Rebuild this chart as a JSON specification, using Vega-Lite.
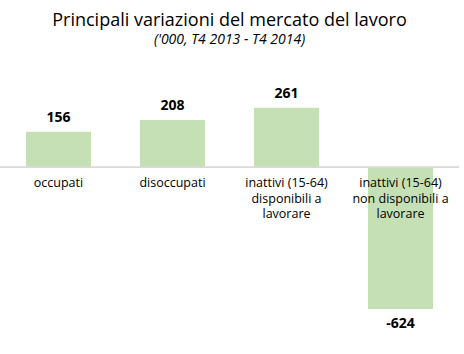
{
  "$schema": "https://vega.github.io/schema/vega-lite/v6.json",
  "autosize": "none",
  "width": 459,
  "height": 216,
  "padding": {"left": 0, "top": 99, "right": 5, "bottom": 39},
  "background": "white",
  "title": {
    "text": "Principali variazioni del mercato del lavoro",
    "subtitle": "('000, T4 2013 - T4 2014)",
    "anchor": "middle",
    "offset": 40,
    "font": "Open Sans",
    "fontSize": 18,
    "fontWeight": "normal",
    "color": "#000000",
    "subtitleFont": "Open Sans",
    "subtitleFontSize": 14,
    "subtitleFontStyle": "italic",
    "subtitleColor": "#000000",
    "subtitlePadding": 3
  },
  "config": {"view": {"stroke": null}},
  "data": {
    "values": [
      {"categoria": "occupati", "etichetta": "occupati", "valore": 156, "testo": "156"},
      {"categoria": "disoccupati", "etichetta": "disoccupati", "valore": 208, "testo": "208"},
      {"categoria": "inattivi disponibili", "etichetta": "inattivi (15-64)\ndisponibili a\nlavorare", "valore": 261, "testo": "261"},
      {"categoria": "inattivi non disponibili", "etichetta": "inattivi (15-64)\nnon disponibili a\nlavorare", "valore": -624, "testo": "-624"}
    ]
  },
  "encoding": {
    "x": {"field": "categoria", "type": "nominal", "sort": null, "axis": null,
          "scale": {"paddingInner": 0.43, "paddingOuter": 0.228}}
  },
  "layer": [
    {
      "mark": {"type": "bar", "color": "#C5E0B4"},
      "encoding": {
        "y": {"field": "valore", "type": "quantitative", "axis": null,
              "scale": {"domain": [-650, 300], "nice": false, "zero": false}}
      }
    },
    {
      "mark": {"type": "rule", "color": "#d9d9d9", "strokeWidth": 1},
      "encoding": {"y": {"datum": 0, "type": "quantitative"}, "x": {"value": 0}, "x2": {"value": 459}}
    },
    {
      "transform": [{"filter": "datum.valore >= 0"}],
      "mark": {"type": "text", "baseline": "bottom", "dy": -7, "font": "Open Sans", "fontSize": 14, "fontWeight": "bold", "color": "#000000"},
      "encoding": {
        "y": {"field": "valore", "type": "quantitative"},
        "text": {"field": "testo", "type": "nominal"}
      }
    },
    {
      "transform": [{"filter": "datum.valore < 0"}],
      "mark": {"type": "text", "baseline": "top", "dy": 8, "font": "Open Sans", "fontSize": 14, "fontWeight": "bold", "color": "#000000"},
      "encoding": {
        "y": {"field": "valore", "type": "quantitative"},
        "text": {"field": "testo", "type": "nominal"}
      }
    },
    {
      "mark": {"type": "text", "baseline": "top", "dy": 10, "lineBreak": "\n", "lineHeight": 15.5, "font": "Open Sans", "fontSize": 12.5, "color": "#000000"},
      "encoding": {
        "y": {"datum": 0, "type": "quantitative"},
        "text": {"field": "etichetta", "type": "nominal"}
      }
    }
  ]
}
